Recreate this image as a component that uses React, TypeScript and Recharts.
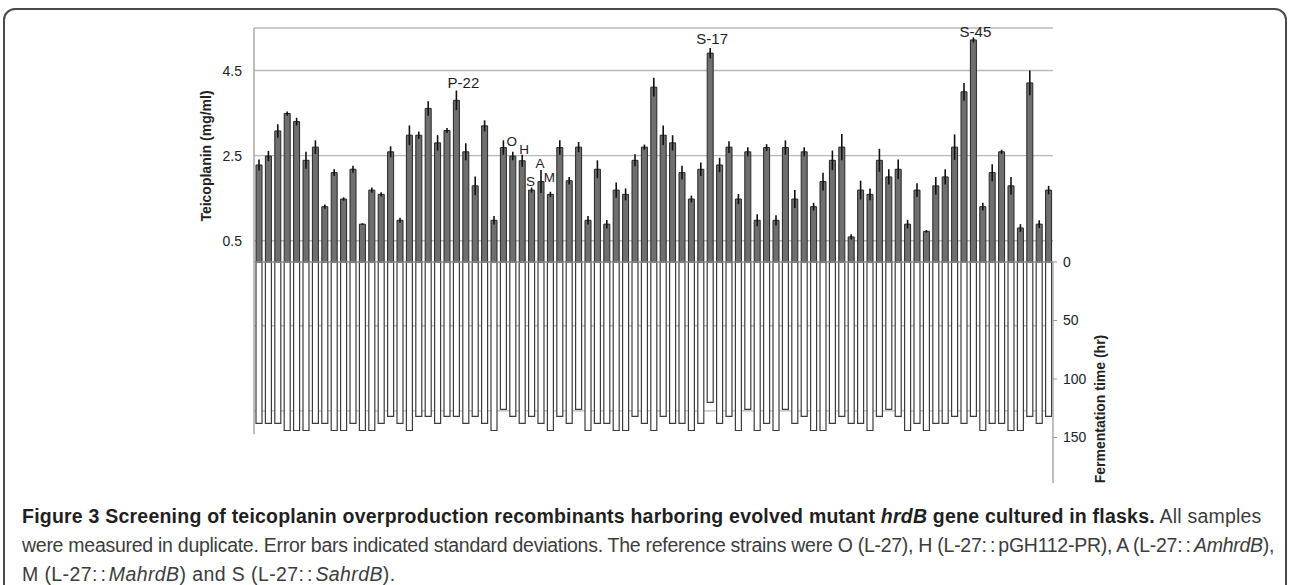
import React from 'react';
import { ComposedChart, Bar, XAxis, YAxis, CartesianGrid, ErrorBar, ReferenceLine, LabelList } from 'recharts';

// teicoplanin titre per strain (mg/ml), read left to right
const teico = [
  2.28, 2.49, 3.08, 3.49, 3.3, 2.39, 2.7, 1.3, 2.1, 1.48, 2.18, 0.89, 1.69, 1.59, 2.59, 0.98, 2.98,
  2.98, 3.61, 2.8, 3.09, 3.8, 2.59, 1.79, 3.2, 0.98, 2.69, 2.49, 2.38, 1.69, 1.89, 1.59, 2.69, 1.91,
  2.7, 0.98, 2.18, 0.89, 1.69, 1.59, 2.39, 2.7, 4.11, 2.98, 2.8, 2.1, 1.48, 2.18, 4.91, 2.28, 2.7,
  1.48, 2.59, 0.98, 2.69, 0.98, 2.69, 1.48, 2.59, 1.3, 1.89, 2.39, 2.7, 0.59, 1.69, 1.59, 2.39, 2.0, 2.18,
  0.89, 1.69, 0.72, 1.79, 2.0, 2.7, 4.0, 5.22, 1.3, 2.1, 2.59, 1.79, 0.8, 4.21, 0.89, 1.69,
];
const teicoSd = [
  0.13, 0.12, 0.16, 0.05, 0.09, 0.2, 0.16, 0.05, 0.08, 0.04, 0.08, 0.02, 0.06, 0.05, 0.13, 0.06, 0.23,
  0.09, 0.17, 0.18, 0.06, 0.23, 0.2, 0.22, 0.13, 0.1, 0.17, 0.1, 0.14, 0.06, 0.27, 0.06, 0.17, 0.09,
  0.12, 0.1, 0.21, 0.1, 0.18, 0.14, 0.14, 0.06, 0.22, 0.23, 0.18, 0.16, 0.08, 0.16, 0.12, 0.17, 0.14,
  0.12, 0.11, 0.14, 0.08, 0.12, 0.17, 0.21, 0.11, 0.09, 0.21, 0.23, 0.31, 0.06, 0.22, 0.14, 0.27, 0.18, 0.23,
  0.1, 0.16, 0.03, 0.21, 0.18, 0.3, 0.21, 0.06, 0.09, 0.2, 0.05, 0.21, 0.09, 0.29, 0.09, 0.1,
];
// fermentation time (hr)
const hours = [
  138, 138, 138, 144, 144, 144, 138, 138, 144, 144, 138, 144, 144, 138, 132, 138, 144,
  132, 132, 138, 132, 132, 138, 132, 138, 144, 126, 132, 138, 132, 138, 144, 132, 138,
  126, 144, 138, 138, 144, 144, 132, 138, 144, 132, 138, 138, 144, 138, 120, 138, 132,
  144, 126, 144, 138, 144, 126, 138, 132, 144, 144, 138, 132, 138, 138, 144, 132, 126, 132,
  144, 138, 144, 138, 138, 132, 138, 132, 144, 138, 138, 144, 144, 132, 138, 132,
];
const tagNames = ['P-22', 'O', 'H', 'S', 'A', 'M', 'S-17', 'S-45'];
const tagBars = [22, 28, 29, 30, 31, 32, 49, 77];
const leftTicks = [-3.5, -1.5, 0.5, 2.5, 4.5];
const rightTicks = [0, 50, 100, 150];

const data = teico.map((v, i) => {
  const t = tagBars.indexOf(i + 1);
  return { strain: i + 1, teico: v, sd: teicoSd[i], hours: hours[i], tag: t >= 0 ? tagNames[t] : undefined };
});

// nudges for the strain tags: [dx, gap over error tip, font size]
const tagStyle: Record<string, [number, number, number]> = {
  'P-22': [7, 3, 15],
  'S-17': [2, 4, 15],
  'S-45': [2, 0, 15],
  O: [-1, 6, 13.5],
  H: [2, 0.5, 13.5],
  S: [-1, 2, 13.5],
  A: [-1, 2, 13.5],
  M: [-1, 10, 13.5],
};

const TagLabel = (props: any) => {
  const { value } = props;
  if (!value) return null;
  const vb = props.viewBox || {};
  const x = vb.x ?? props.x;
  const y = vb.y ?? props.y;
  const w = vb.width ?? props.width;
  const h = vb.height ?? props.height;
  const i = tagBars[tagNames.indexOf(value)] - 1;
  const top = Math.min(y, y + h);
  const errTop = top - (teicoSd[i] * Math.abs(h)) / teico[i];
  const [dx, gap, size] = tagStyle[value];
  return (
    <text x={x + w / 2 + dx} y={errTop - gap} textAnchor="middle" fontSize={size} fill="#1e1e1e">
      {value}
    </text>
  );
};

const capFont = '"Liberation Sans", Arial, sans-serif';
const Cc = () => <tspan letterSpacing={3}>::</tspan>;

export default function App() {
  return (
    <div style={{ position: 'absolute', left: 0, top: 0, width: 1292, height: 585, overflow: 'hidden', background: '#fff' }}>
      <div
        style={{
          position: 'absolute', left: 3, top: 8, width: 1284, height: 640,
          border: '2px solid #4a4a4a', borderRadius: 12, boxSizing: 'border-box',
        }}
      />
      <div style={{ position: 'absolute', left: 0, top: 0, width: 1292, height: 483, overflow: 'hidden', fontFamily: '"Liberation Sans", Arial, sans-serif' }}>
        <ComposedChart width={1292} height={496} data={data} margin={{ top: 28, right: 179, bottom: 0, left: 0 }} barGap={-6}>
          <CartesianGrid yAxisId="left" vertical={false} stroke="#b9b9b9" strokeWidth={1.4} />
          <XAxis type="number" dataKey="strain" domain={[0.5, 85.5]} hide allowDataOverflow />
          <YAxis
            yAxisId="left"
            domain={[-5.5, 5.5]}
            ticks={leftTicks}
            interval={0}
            width={254}
            allowDataOverflow
            tickFormatter={(v: number) => (v >= 0 ? v.toFixed(1) : '')}
            tickLine={false}
            tickSize={0}
            tickMargin={12}
            axisLine={false}
            tick={{ fontSize: 14, fill: '#222' }}
          />
          <YAxis
            yAxisId="right"
            orientation="right"
            reversed
            domain={[-200, 200]}
            ticks={rightTicks}
            interval={0}
            width={60}
            allowDataOverflow
            axisLine={false}
            tickSize={4}
            tickMargin={6}
            tickLine={{ stroke: '#999' }}
            tick={{ fontSize: 14, fill: '#222' }}
          />
          <Bar yAxisId="right" dataKey="hours" barSize={6} fill="#ffffff" stroke="#3d3d3d" strokeWidth={1.2} isAnimationActive={false} />
          <Bar yAxisId="left" dataKey="teico" barSize={6} fill="#6f6f6f" stroke="#262626" strokeWidth={1} isAnimationActive={false}>
            <ErrorBar dataKey="sd" width={0} stroke="#111" strokeWidth={1.6} direction="y" />
            <LabelList dataKey="tag" content={TagLabel} />
          </Bar>
          <ReferenceLine yAxisId="left" y={0} stroke="#8c8c8c" strokeWidth={1.5} />
          <ReferenceLine
            yAxisId="left"
            segment={[{ x: 0.5, y: 5.5 }, { x: 0.5, y: -4.05 }]}
            stroke="#aaaaaa"
            strokeWidth={1.5}
            ifOverflow="visible"
          />
          <ReferenceLine
            yAxisId="right"
            segment={[{ x: 85.5, y: 0 }, { x: 85.5, y: 200 }]}
            stroke="#aaaaaa"
            strokeWidth={1.5}
            ifOverflow="visible"
          />
        </ComposedChart>
        <div
          style={{
            position: 'absolute', left: 206, top: 156, transform: 'translate(-50%, -50%) rotate(-90deg)',
            whiteSpace: 'nowrap', fontWeight: 'bold', fontSize: 14, color: '#222',
          }}
        >
          Teicoplanin (mg/ml)
        </div>
        <div
          style={{
            position: 'absolute', left: 1100, top: 409, transform: 'translate(-50%, -50%) rotate(-90deg)',
            whiteSpace: 'nowrap', fontWeight: 'bold', fontSize: 14, color: '#222',
          }}
        >
          Fermentation time (hr)
        </div>
      </div>
      <svg style={{ position: 'absolute', left: 0, top: 490 }} width={1292} height={95} fontFamily={capFont} fontSize={19.5}>
        <text x={22} y={33} fill="#3c3c3c" letterSpacing={0.22}>
          <tspan fontWeight="bold" fill="#1f1f1f">
            Figure 3 Screening of teicoplanin overproduction recombinants harboring evolved mutant{' '}
            <tspan fontStyle="italic">hrdB</tspan> gene cultured in flasks.
          </tspan>
          <tspan> All samples</tspan>
        </text>
        <text x={22} y={62} fill="#3c3c3c" letterSpacing={-0.27}>
          were measured in duplicate. Error bars indicated standard deviations. The reference strains were O (L-27), H (L-27
          <Cc />pGH112-PR), A (L-27<Cc />
          <tspan fontStyle="italic">AmhrdB</tspan>),
        </text>
        <text x={22} y={91} fill="#3c3c3c" letterSpacing={0.4}>
          M (L-27<Cc />
          <tspan fontStyle="italic">MahrdB</tspan>) and S (L-27<Cc />
          <tspan fontStyle="italic">SahrdB</tspan>).
        </text>
      </svg>
    </div>
  );
}
